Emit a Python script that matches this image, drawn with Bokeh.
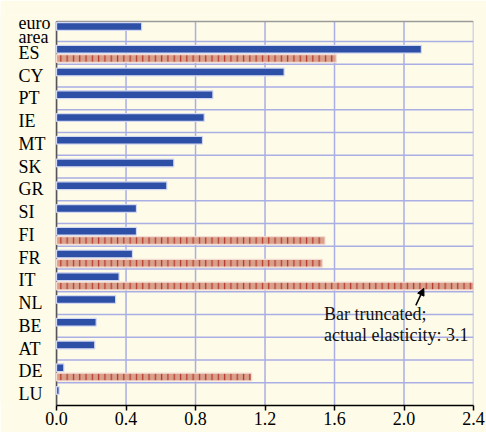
from bokeh.plotting import figure
from bokeh.models import (Range1d, FixedTicker, ColumnDataSource, Arrow,
                          NormalHead, PrintfTickFormatter)
from bokeh.core.properties import value
from bokeh.embed import file_html
from bokeh.resources import INLINE

# ---- data ----
categories = ["euro\narea", "ES", "CY", "PT", "IE", "MT", "SK", "GR", "SI",
              "FI", "FR", "IT", "NL", "BE", "AT", "DE", "LU"]
blue_values = [0.49, 2.10, 1.31, 0.90, 0.85, 0.84, 0.675, 0.635, 0.46,
               0.46, 0.437, 0.36, 0.34, 0.228, 0.22, 0.042, 0.015]
red_categories = ["ES", "FI", "FR", "IT", "DE"]
red_values = [1.61, 1.545, 1.53, 3.1, 1.123]
x_ticks = [0.0, 0.4, 0.8, 1.2, 1.6, 2.0, 2.4]
note_lines = ["Bar truncated;", "actual elasticity: 3.1"]

BG = "#FEFCE8"
BLUE = "#2E4FA6"
GRID = "#A9AEE4"
FONT = "Liberation Serif"

n = len(categories)
XMAX = x_ticks[-1]
TOP_EDGE = 0.12                       # where the plotting box starts (row units)
LABEL_X = -0.219                      # left-aligned category labels, in the margin
row_center = [i + 0.5 for i in range(n)]
blue_y = [i + 0.34 for i in range(n)]
red_y = [categories.index(c) + 0.75 for c in red_categories]

p = figure(width=486, height=432, output_backend="svg", toolbar_location=None,
           x_range=Range1d(-0.3226, XMAX), y_range=Range1d(n, -0.186),
           min_border_left=0, min_border_right=13, min_border_top=14,
           min_border_bottom=27,
           background_fill_color=BG, border_fill_color=BG)
p.outline_line_color = None
p.yaxis.visible = False
p.grid.visible = False

# grid lines limited to the plotting box
p.segment(x0=x_ticks, x1=x_ticks, y0=[TOP_EDGE] * len(x_ticks), y1=[n] * len(x_ticks),
          line_color=GRID, line_width=1.5)
p.segment(x0=[0] * (n - 1), x1=[XMAX] * (n - 1), y0=list(range(1, n)), y1=list(range(1, n)),
          line_color=GRID, line_width=1.5)
# box: top (grey) and left (dark)
p.segment(x0=[0], x1=[XMAX], y0=[TOP_EDGE], y1=[TOP_EDGE], line_color="#9A9A9A", line_width=1.5)
p.segment(x0=[0], x1=[0], y0=[TOP_EDGE], y1=[n], line_color="#555555", line_width=1.5)

# bars (IT is truncated by the right edge of the box)
p.hbar(y=blue_y, left=0, right=blue_values, height=0.34,
       fill_color=BLUE, line_color="#D3D8F2", line_width=1.2)
p.hbar(y=red_y, left=0, right=red_values, height=0.34,
       fill_color="#D9A08C", line_color="#F4DCD2", line_width=1.2,
       hatch_pattern="|", hatch_color="#B53A2C", hatch_weight=1.3, hatch_scale=6.3)

# x axis
p.xaxis.bounds = (0, XMAX)
p.xaxis.ticker = FixedTicker(ticks=x_ticks)
p.xaxis.formatter = PrintfTickFormatter(format="%.1f")
p.xaxis.major_label_text_font = FONT
p.xaxis.major_label_text_font_size = "18px"
p.xaxis.major_label_text_color = "black"
p.xaxis.axis_line_color = "black"
p.xaxis.axis_line_width = 1.5
p.xaxis.major_tick_line_color = "black"
p.xaxis.major_tick_line_width = 1.5
p.xaxis.major_tick_out = 5
p.xaxis.major_tick_in = 0
p.xaxis.minor_tick_line_color = None
p.xaxis.major_label_standoff = 1

# category labels
lab_src = ColumnDataSource(dict(x=[LABEL_X] * n, y=row_center, text=categories))
p.text(x="x", y="y", text="text", source=lab_src, text_font=value(FONT),
       text_font_size="18px", text_align="left", text_baseline="middle",
       text_line_height=0.68, text_color="black")

# annotation
note_src = ColumnDataSource(dict(x=[1.54, 1.54], y=[12.96, 13.90], text=note_lines))
p.text(x="x", y="y", text="text", source=note_src, text_font=value(FONT),
       text_font_size="18px", text_align="left", text_baseline="alphabetic",
       text_color="#111111")
p.add_layout(Arrow(end=NormalHead(size=7, fill_color="black", line_color="black"),
                   x_start=2.068, y_start=12.6, x_end=2.114, y_end=11.85,
                   line_color="black", line_width=1.5))

html = file_html(p, INLINE)
html = html.replace("<body>", '<body style="background-color:%s;">' % BG, 1)
open("out.html", "w").write(html)
